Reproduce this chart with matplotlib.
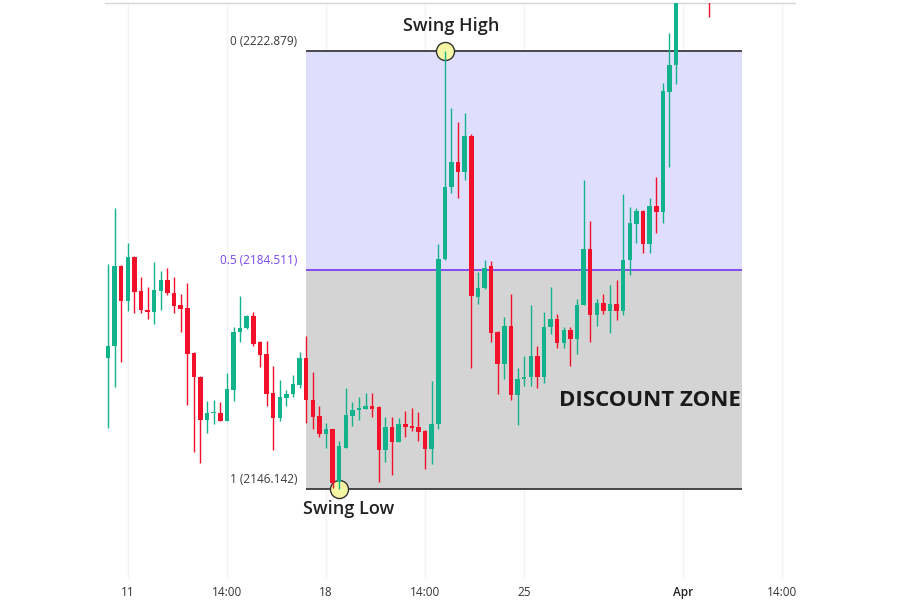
import numpy as np
import matplotlib
matplotlib.use("Agg")
import matplotlib.pyplot as plt

plt.rcParams["font.family"] = ["Open Sans", "DejaVu Sans"]

# OHLC (one row per candle)
opens = [2169.0, 2171.2, 2185.2, 2179.0, 2186.8, 2180.8, 2177.5, 2177.2, 2180.9, 2182.8,
         2180.4, 2178.4, 2177.8, 2169.9, 2165.8, 2158.2, 2159.4, 2159.5, 2158.1, 2163.5,
         2173.6, 2174.3, 2176.5, 2171.8, 2169.7, 2162.9, 2158.5, 2162.1, 2162.7, 2164.4,
         2169.1, 2161.8, 2158.9, 2155.8, 2156.6, 2147.3, 2153.4, 2158.9, 2159.9, 2160.2,
         2160.7, 2160.5, 2153.0, 2157.0, 2154.4, 2157.5, 2157.2, 2157.0, 2156.3, 2153.1,
         2157.6, 2186.4, 2199.0, 2203.4, 2201.6, 2207.9, 2179.8, 2181.3, 2185.2, 2173.7,
         2168.0, 2174.7, 2162.6, 2165.4, 2165.7, 2169.5, 2165.8, 2174.5, 2175.9, 2171.7,
         2174.0, 2172.4, 2178.4, 2188.1, 2176.6, 2178.7, 2177.4, 2178.5, 2177.4, 2186.2,
         2192.6, 2194.9, 2189.1, 2195.7, 2194.7, 2215.7, 2220.4, 2234.0, 2238.0, 2241.0,
         2239.0, 2243.0]
highs = [2185.6, 2195.4, 2185.4, 2189.2, 2186.9, 2183.3, 2181.6, 2185.9, 2184.3, 2184.9,
         2183.3, 2180.3, 2182.3, 2170.1, 2165.9, 2161.6, 2161.7, 2161.4, 2166.5, 2174.6,
         2180.0, 2176.6, 2177.1, 2172.1, 2172.1, 2167.6, 2165.2, 2163.5, 2166.1, 2170.2,
         2172.9, 2166.7, 2160.7, 2157.7, 2156.7, 2154.6, 2163.8, 2161.4, 2162.3, 2162.9,
         2162.9, 2160.6, 2158.7, 2158.7, 2158.5, 2159.8, 2160.4, 2159.6, 2156.4, 2165.1,
         2189.0, 2222.879, 2212.8, 2210.5, 2212.0, 2208.3, 2184.2, 2186.3, 2186.0, 2173.8,
         2176.2, 2180.3, 2167.3, 2169.4, 2178.4, 2171.2, 2177.2, 2181.5, 2176.8, 2174.5,
         2174.5, 2179.4, 2200.3, 2193.1, 2179.4, 2180.3, 2181.9, 2182.8, 2197.8, 2195.5,
         2195.4, 2195.0, 2197.1, 2200.8, 2217.2, 2226.0, 2236.0, 2240.0, 2243.0, 2244.0,
         2245.0, 2246.0]
lows = [2156.9, 2164.0, 2168.4, 2177.4, 2177.0, 2177.0, 2176.0, 2175.0, 2177.5, 2180.2,
        2177.0, 2173.6, 2160.8, 2152.7, 2150.7, 2156.0, 2157.5, 2158.0, 2158.0, 2161.5,
        2171.8, 2174.2, 2171.1, 2167.5, 2160.6, 2153.0, 2158.1, 2160.7, 2162.3, 2163.8,
        2157.7, 2156.6, 2155.3, 2153.3, 2146.3, 2146.142, 2153.3, 2157.1, 2158.2, 2160.1,
        2158.7, 2147.3, 2150.9, 2148.5, 2154.3, 2155.3, 2156.3, 2154.5, 2149.6, 2150.6,
        2156.6, 2186.2, 2198.0, 2197.1, 2200.3, 2167.3, 2178.5, 2181.2, 2171.9, 2162.8,
        2165.4, 2161.8, 2157.3, 2164.2, 2164.1, 2163.8, 2164.7, 2173.3, 2170.8, 2170.8,
        2167.6, 2169.7, 2178.3, 2171.9, 2174.7, 2176.8, 2173.5, 2175.7, 2176.6, 2183.6,
        2189.2, 2187.4, 2187.5, 2190.9, 2192.7, 2202.5, 2217.1, 2232.5, 2236.0, 2237.0,
        2236.0, 2228.8]
closes = [2171.2, 2185.2, 2179.0, 2186.8, 2180.7, 2177.5, 2177.2, 2181.0, 2182.8, 2180.4,
          2178.2, 2177.7, 2169.7, 2165.8, 2158.2, 2159.4, 2159.5, 2158.1, 2163.7, 2173.6,
          2174.3, 2176.5, 2171.5, 2169.6, 2162.8, 2158.6, 2162.2, 2162.7, 2164.5, 2169.1,
          2161.7, 2158.8, 2155.8, 2156.6, 2147.1, 2153.6, 2159.1, 2160.0, 2160.4, 2160.7,
          2160.2, 2153.0, 2157.0, 2154.4, 2157.5, 2157.0, 2156.8, 2156.2, 2153.1, 2157.6,
          2186.4, 2199.1, 2203.4, 2201.6, 2207.9, 2180.0, 2181.4, 2184.9, 2173.5, 2168.0,
          2174.7, 2162.6, 2165.4, 2165.8, 2169.5, 2165.8, 2174.5, 2175.9, 2171.7, 2174.0,
          2172.4, 2178.4, 2188.1, 2176.6, 2178.7, 2177.4, 2178.5, 2177.4, 2186.3, 2192.7,
          2194.9, 2189.1, 2195.7, 2194.7, 2215.9, 2220.5, 2234.0, 2238.0, 2241.0, 2239.0,
          2243.0, 2236.0]

tick_pos = [3, 18, 33, 48, 63, 87, 102]
tick_labels = ["11", "14:00", "18", "14:00", "25", "Apr", "14:00"]

fib_levels = [0, 0.5, 1]
fib_prices = [2222.879, 2184.511, 2146.142]
fib_start, fib_end = 30, 96
swing_high_idx, swing_low_idx = 51, 35

GREEN = "#12b28c"
RED = "#f2102a"

fig = plt.figure(figsize=(9, 6), dpi=100)
ax = fig.add_axes([105 / 900, 22 / 600, 690 / 900, 575 / 600])
ax.set_axisbelow(True)

o = np.array(opens)
h = np.array(highs)
l = np.array(lows)
c = np.array(closes)
x = np.arange(len(o))
up = c >= o
colors = np.where(up, GREEN, RED)

# zones
ax.fill_between([fib_start, fib_end], fib_prices[1], fib_prices[0], color="#dfdefd", lw=0, zorder=1)
ax.fill_between([fib_start, fib_end], fib_prices[2], fib_prices[1], color="#d4d4d4", lw=0, zorder=1)
ax.hlines(fib_prices[0], fib_start, fib_end, color="#2b2b2b", lw=1.2, zorder=2)
ax.hlines(fib_prices[1], fib_start, fib_end, color="#7434f0", lw=1.2, zorder=2)
ax.hlines(fib_prices[2], fib_start, fib_end, color="#2b2b2b", lw=1.2, zorder=2)

label_colors = ["#3a3a3a", "#7a46f0", "#3a3a3a"]
for lev, pr, col in zip(fib_levels, fib_prices, label_colors):
    ax.annotate(f"{lev:g} ({pr:.3f})", (fib_start, pr), xytext=(-6.5, 7),
                textcoords="offset points", ha="right", va="center",
                fontsize=8.5, color=col)

# swing markers
ax.plot([swing_high_idx, swing_low_idx], [h[swing_high_idx], l[swing_low_idx]], "o",
        ms=13, mfc="#f5f6a4", mec="#333333", mew=1, zorder=3)

# candles
ax.vlines(x, l, h, colors=colors, lw=1, zorder=4)
body = np.maximum(np.abs(c - o), 0.25)
ax.bar(x, body, bottom=np.minimum(o, c), width=0.68, color=colors, lw=0, zorder=5)

ax.annotate("Swing High", (swing_high_idx, h[swing_high_idx]), xytext=(4.5, 18),
            textcoords="offset points", ha="center", va="center",
            fontsize=13, fontweight="semibold", color="#222222")
ax.annotate("Swing Low", (swing_low_idx, l[swing_low_idx]), xytext=(7, -14.5),
            textcoords="offset points", ha="center", va="center",
            fontsize=13, fontweight="semibold", color="#222222")
ax.text(fib_end - 0.2, 2161.7, "DISCOUNT ZONE", ha="right", va="center",
        fontsize=16, fontweight="bold", color="#1a1a1a", zorder=6)

ax.set_xlim(-0.454, 104.0)
ax.set_ylim(2130.54, 2231.28)
ax.set_xticks(tick_pos)
ax.set_xticklabels(tick_labels)
for lbl in ax.get_xticklabels():
    lbl.set_color("#222222" if lbl.get_text() == "Apr" else "#333333")
    if lbl.get_text() == "Apr":
        lbl.set_fontweight("semibold")
ax.tick_params(axis="x", length=0, pad=6, labelsize=8.5)
ax.set_yticks([])
ax.grid(True, axis="x", color="#f2f3f7", lw=1)
for side in ["left", "right", "bottom"]:
    ax.spines[side].set_visible(False)
ax.spines["top"].set_color("#d5d5d5")
ax.spines["top"].set_linewidth(1)

fig.savefig("out.png", dpi=100)
